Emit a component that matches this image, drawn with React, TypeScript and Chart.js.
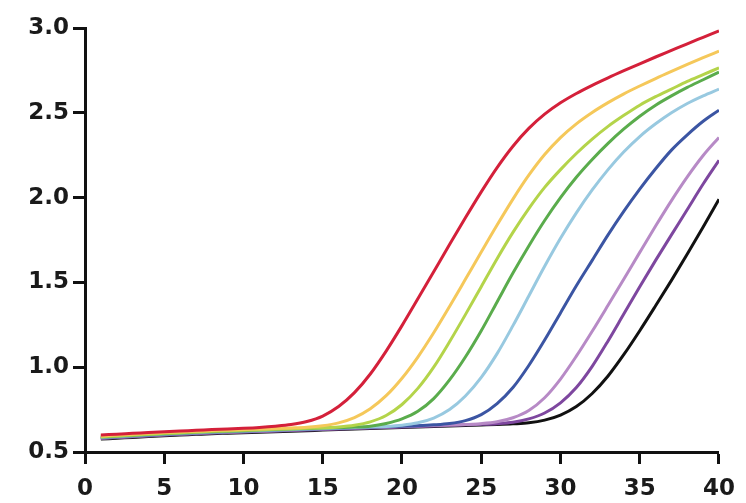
import React, { useEffect, useRef } from "react";
import { Chart, registerables } from "chart.js";

Chart.register(...registerables);

const cycles = [1, 2, 3, 4, 5, 6, 7, 8, 9, 10, 11, 12, 13, 14, 15, 16, 17, 18, 19, 20, 21, 22, 23, 24, 25, 26, 27, 28, 29, 30, 31, 32, 33, 34, 35, 36, 37, 38, 39, 40];

const red = [0.600, 0.605, 0.610, 0.615, 0.620, 0.624, 0.628, 0.632, 0.636, 0.640, 0.645, 0.652, 0.662, 0.680, 0.712, 0.768, 0.850, 0.960, 1.095, 1.245, 1.403, 1.563, 1.723, 1.881, 2.034, 2.177, 2.303, 2.408, 2.492, 2.559, 2.614, 2.662, 2.706, 2.748, 2.789, 2.829, 2.868, 2.907, 2.945, 2.983];
const yellow = [0.595, 0.600, 0.605, 0.610, 0.615, 0.619, 0.623, 0.627, 0.630, 0.633, 0.636, 0.639, 0.642, 0.646, 0.655, 0.672, 0.703, 0.755, 0.832, 0.935, 1.060, 1.203, 1.358, 1.518, 1.679, 1.838, 1.991, 2.132, 2.254, 2.354, 2.435, 2.502, 2.560, 2.612, 2.658, 2.702, 2.744, 2.785, 2.825, 2.864];
const lime = [0.590, 0.595, 0.600, 0.605, 0.610, 0.614, 0.618, 0.622, 0.625, 0.628, 0.631, 0.634, 0.637, 0.640, 0.643, 0.648, 0.658, 0.678, 0.715, 0.780, 0.875, 1.000, 1.150, 1.310, 1.475, 1.640, 1.795, 1.935, 2.060, 2.165, 2.260, 2.345, 2.420, 2.485, 2.545, 2.595, 2.640, 2.685, 2.725, 2.765];
const green = [0.588, 0.593, 0.598, 0.603, 0.608, 0.612, 0.616, 0.620, 0.623, 0.626, 0.629, 0.632, 0.635, 0.638, 0.641, 0.644, 0.647, 0.652, 0.668, 0.695, 0.740, 0.815, 0.925, 1.060, 1.215, 1.385, 1.555, 1.715, 1.865, 2.000, 2.120, 2.225, 2.320, 2.405, 2.480, 2.545, 2.600, 2.650, 2.695, 2.740];
const lightBlue = [0.586, 0.591, 0.596, 0.601, 0.606, 0.610, 0.614, 0.618, 0.621, 0.624, 0.627, 0.630, 0.633, 0.636, 0.639, 0.642, 0.645, 0.648, 0.651, 0.658, 0.672, 0.700, 0.750, 0.830, 0.940, 1.080, 1.245, 1.420, 1.595, 1.760, 1.910, 2.045, 2.165, 2.270, 2.360, 2.435, 2.500, 2.555, 2.600, 2.640];
const blue = [0.584, 0.589, 0.594, 0.599, 0.604, 0.608, 0.612, 0.616, 0.619, 0.622, 0.625, 0.628, 0.631, 0.634, 0.637, 0.640, 0.643, 0.646, 0.649, 0.652, 0.655, 0.660, 0.668, 0.685, 0.720, 0.785, 0.880, 1.010, 1.160, 1.320, 1.480, 1.630, 1.780, 1.920, 2.050, 2.170, 2.280, 2.370, 2.450, 2.515];
const mauve = [0.582, 0.587, 0.592, 0.597, 0.602, 0.606, 0.610, 0.614, 0.617, 0.620, 0.623, 0.626, 0.629, 0.632, 0.635, 0.638, 0.641, 0.644, 0.647, 0.650, 0.653, 0.656, 0.659, 0.662, 0.667, 0.678, 0.702, 0.745, 0.820, 0.930, 1.065, 1.212, 1.365, 1.520, 1.677, 1.832, 1.982, 2.122, 2.248, 2.355];
const purple = [0.580, 0.585, 0.590, 0.595, 0.600, 0.604, 0.608, 0.612, 0.615, 0.618, 0.621, 0.624, 0.627, 0.630, 0.633, 0.636, 0.639, 0.642, 0.645, 0.648, 0.651, 0.654, 0.657, 0.660, 0.663, 0.667, 0.675, 0.695, 0.730, 0.790, 0.880, 1.005, 1.155, 1.315, 1.475, 1.630, 1.780, 1.930, 2.080, 2.220];
const black = [0.576, 0.581, 0.586, 0.591, 0.596, 0.600, 0.604, 0.608, 0.611, 0.614, 0.617, 0.620, 0.623, 0.626, 0.629, 0.632, 0.635, 0.638, 0.641, 0.644, 0.647, 0.650, 0.653, 0.656, 0.659, 0.662, 0.666, 0.672, 0.688, 0.718, 0.768, 0.845, 0.948, 1.075, 1.215, 1.362, 1.512, 1.667, 1.826, 1.990];

const seriesNames = ["Red", "Yellow", "Lime", "Green", "Light blue", "Blue", "Mauve", "Purple", "Black"];
const seriesValues = [red, yellow, lime, green, lightBlue, blue, mauve, purple, black];
const seriesColors = ["#d4203a", "#f5c85a", "#b4d44a", "#5aac4c", "#98c9e0", "#3b55a3", "#b78ac6", "#7e479f", "#111111"];

const xTicksMin = 0;
const xTicksMax = 40;
const xStep = 5;
const yMin = 0.5;
const yMax = 3.0;
const yStep = 0.5;

export default function App() {
  const ref = useRef<HTMLCanvasElement | null>(null);
  useEffect(() => {
    if (!ref.current) return;
    const font = { family: "'DejaVu Sans', sans-serif", size: 23, weight: "bold" as const };
    const chart = new Chart(ref.current, {
      type: "line",
      data: {
        datasets: seriesNames.map((name, i) => ({
          label: name,
          data: cycles.map((c, j) => ({ x: c, y: seriesValues[i][j] })),
          borderColor: seriesColors[i],
          backgroundColor: seriesColors[i],
          borderWidth: 3,
          pointRadius: 0,
          cubicInterpolationMode: "monotone" as const,
          fill: false,
        })),
      },
      options: {
        animation: false,
        responsive: false,
        maintainAspectRatio: false,
        layout: { padding: { top: 28, right: 25, bottom: 0, left: 0 } },
        plugins: { legend: { display: false }, tooltip: { enabled: false } },
        scales: {
          x: {
            type: "linear",
            min: xTicksMin,
            max: xTicksMax,
            ticks: { stepSize: xStep, font, color: "#1a1a1a", padding: 11, maxRotation: 0 },
            grid: { drawOnChartArea: false, drawTicks: true, tickLength: 12, tickWidth: 3, tickColor: "#111" },
            border: { display: true, color: "#111", width: 3 },
            afterFit: (s: any) => { s.height = 51; },
          },
          y: {
            type: "linear",
            min: yMin,
            max: yMax,
            ticks: {
              stepSize: yStep,
              font,
              color: "#1a1a1a",
              padding: 4,
              callback: (v: any) => Number(v).toFixed(1),
            },
            grid: { drawOnChartArea: false, drawTicks: true, tickLength: 12, tickWidth: 3, tickColor: "#111" },
            border: { display: true, color: "#111", width: 3 },
            afterFit: (s: any) => { s.width = 85; },
          },
        },
      },
    });
    return () => chart.destroy();
  }, []);
  return (
    <div style={{ position: "absolute", left: 0, top: 0, width: 746, height: 503, background: "#fff" }}>
      <canvas ref={ref} width={746} height={503} style={{ display: "block" }} />
    </div>
  );
}
